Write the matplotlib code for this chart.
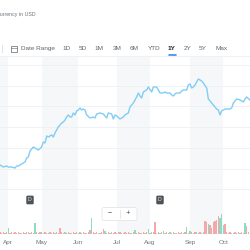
import matplotlib
matplotlib.use("Agg")
import matplotlib.pyplot as plt
from matplotlib.patches import FancyBboxPatch, Rectangle
from matplotlib.lines import Line2D

plt.rcParams['font.family'] = ['Liberation Sans', 'DejaVu Sans']

# ---- data (x = trading session index, price in USD, volume in millions) ----
price_day = [0, 2, 4, 5, 7, 9, 10, 11, 13, 14, 15, 16, 17, 18, 19, 20, 21, 22, 23, 25,
             26, 27, 28, 29, 31, 32, 33, 34, 35, 37, 38, 39, 40, 41, 42, 43, 44, 45, 46, 47,
             48, 49, 50, 51, 52, 54, 56, 57, 58, 60, 62, 64, 65, 67, 68, 69, 70, 72, 74, 75,
             77, 78, 80, 81, 82, 83, 84, 85, 86, 87, 88, 89, 91, 92, 93, 94, 96, 98, 99, 100,
             102, 103, 104, 105, 106, 108, 109, 110, 112, 113, 114, 115, 116, 117, 118, 119, 121, 122, 124, 125,
             127, 129, 130, 131, 132, 133, 135, 136, 138, 139, 140, 142, 144, 146, 147, 148, 150]
price = [25.85, 25.36, 25.61, 25.36, 25.36, 25.12, 25.61, 25.61, 26.09, 26.33, 26.57, 27.54, 27.78, 29.23, 29.71, 30.20, 29.96, 29.71, 29.47, 30.20,
         31.40, 31.16, 32.85, 32.61, 33.10, 32.61, 33.58, 34.30, 35.03, 35.99, 36.23, 36.72, 37.44, 37.93, 37.44, 37.44, 38.41, 37.93, 38.89, 39.13,
         39.62, 39.13, 39.37, 39.13, 37.93, 37.20, 37.44, 37.20, 38.17, 38.41, 38.17, 37.20, 38.41, 38.17, 36.96, 37.93, 37.68, 36.96, 37.44, 37.93,
         38.41, 39.86, 40.82, 41.55, 42.27, 43.24, 42.51, 42.03, 43.48, 43.72, 43.96, 44.69, 43.48, 44.69, 44.69, 44.69, 43.24, 43.24, 43.48, 43.24,
         43.24, 42.76, 42.51, 43.00, 43.24, 43.24, 43.72, 43.96, 43.96, 45.17, 45.41, 44.45, 44.69, 45.17, 45.89, 46.62, 46.14, 45.65, 44.45, 41.79,
         40.82, 39.86, 39.37, 39.13, 37.93, 38.89, 39.37, 39.37, 39.37, 39.62, 40.82, 41.79, 41.55, 41.07, 41.79, 42.27, 41.55]

# signed volume: + up day (green), - down day (red)
volume = [-2, -1, -2, -1, 2, 6, -1, -2, -1, -2,
          -1, -2, 1, -1, -2, -1, -2, 2, -1, -2,
          -1, 11, -2, -1, -2, 2, -1, -2, -1, 1,
          -2, -1, -2, 1, -2, -1, -6, -2, -1, 2,
          -1, -2, -1, 1, -2, -1, -2, -1, 2, -1,
          -2, -1, 1, -2, -4, 16, -2, -1, -2, 1,
          -1, -2, -5, 3, -1, -2, -1, 2, -1, -2,
          -1, 2, -2, -1, 1, -2, -1, -2, 1, -1,
          -2, 4, -1, -2, -1, 1, -2, -1, -2, 5,
          -1, 2, -2, -12, -1, -2, 1, -2, 3, -1,
          -2, -1, 2, -1, -2, 1, -1, -2, -1, 2,
          -1, -2, 7, -1, 3, -2, -1, -2, 2, -1,
          -2, -1, 2, -13, -12, 10, -9, -6, -12, -13,
          -14, -18, 16, 20, 9, -10, -2, -1, -2, 1,
          -1, -2, -1, 2, -1, -2, -1, 11, -8, -2]

month_start = [5, 25, 47, 70, 90, 114, 134]
month_names = ['Apr', 'May', 'Jun', 'Jul', 'Aug', 'Sep', 'Oct']
shaded_months = [(-3, 5), (25, 47), (70, 90), (114, 134)]
dividend_day = [18, 96]
price_ticks = [20, 25, 30, 35, 40, 45, 50]
ranges = ['1D', '5D', '1M', '3M', '6M', 'YTD', '1Y', '2Y', '5Y', 'Max']
range_x = [67, 83, 99, 117, 134.5, 154, 172, 188, 203, 221.5]

W = H = 250.0
fig = plt.figure(figsize=(2.5, 2.5), dpi=100)
fig.patch.set_facecolor('white')

def fy(py):
    return 1 - py / H

ax_p = fig.add_axes([0, fy(209), 1, (209 - 57) / H])
ax_v = fig.add_axes([0, fy(234), 1, (234 - 209) / H])

for a in (ax_p, ax_v):
    a.set_xlim(0, 150)
    a.set_facecolor('none')
    for s in a.spines.values():
        s.set_visible(False)
    a.set_xticks([])
    a.set_yticks([])
    for lo, hi in shaded_months:
        a.axvspan(lo, hi, color='#f5f7f8', lw=0, zorder=0)

ax_p.set_ylim(15.22, 51.93)
for t in price_ticks:
    ax_p.axhline(t, color='#edf0f2', lw=0.6, zorder=1)
ax_p.plot(price_day, price, color='#80cdf6', lw=1.0, zorder=3, solid_joinstyle='round')
ax_p.axhline(15.3, color='#b5babf', lw=0.7, ls=(0, (1, 1)), zorder=2)

for d in dividend_day:
    ax_p.text(d, 17.4, 'D', ha='center', va='center', fontsize=3.8, color='#e8e8e8',
              zorder=5, bbox=dict(boxstyle='round,pad=0.35,rounding_size=0.25',
                                  fc='#4d5257', ec='none'))

ax_v.set_ylim(0, 25)
days = list(range(len(volume)))
heights = [abs(v) for v in volume]
colors = ['#8ddcbf' if v > 0 else '#f6a7ab' for v in volume]
ax_v.bar(days, heights, width=0.75, color=colors, lw=0, zorder=3)
ax_v.axhline(0.15, color='#e4e7ea', lw=0.6, zorder=2)

# month labels
for m, name in zip(month_start, month_names):
    fig.text(m / 150, fy(242.5), name, ha='center', va='center', fontsize=4.6, color='#6f767d')

# header
fig.text(-4 / W, fy(14.7), 'Currency in USD', ha='left', va='center', fontsize=3.8, color='#6f767d')
fig.add_artist(Line2D([1.7 / W, 1.7 / W], [fy(45), fy(52)], color='#dfe2e5', lw=0.7))
fig.add_artist(Rectangle((11 / W, fy(51.5)), 5.5 / W, 5 / H, fill=False, ec='#5f666d', lw=0.5))
fig.add_artist(Line2D([11 / W, 16.5 / W], [fy(48), fy(48)], color='#5f666d', lw=0.4))
fig.text(21 / W, fy(48.3), 'Date Range', ha='left', va='center', fontsize=4.6, color='#5f666d')
for r, x in zip(ranges, range_x):
    sel = r == '1Y'
    fig.text(x / W, fy(48.3), r, ha='center', va='center', fontsize=4.6,
             color='#1d2228' if sel else '#5f666d', fontweight='bold' if sel else 'normal')
fig.add_artist(Line2D([168.5 / W, 175.5 / W], [fy(54.5), fy(54.5)], color='#3c8af0', lw=1.2,
                      solid_capstyle='round'))
fig.add_artist(Line2D([0, 1], [fy(56.3), fy(56.3)], color='#eceff1', lw=0.6))

# zoom buttons
fig.add_artist(FancyBboxPatch((102 / W, fy(220.5)), 35 / W, 13 / H,
                              boxstyle='round,pad=0,rounding_size=0.008',
                              fc='white', ec='#e3e6e9', lw=0.6, zorder=6))
fig.text(110 / W, fy(213.5), '\u2212', ha='center', va='center', fontsize=5, color='#464b51', zorder=7)
fig.text(127.5 / W, fy(213.5), '+', ha='center', va='center', fontsize=5.5, color='#464b51', zorder=7)
fig.add_artist(Line2D([120 / W, 120 / W], [fy(209.5), fy(218)], color='#dadde0', lw=0.5, zorder=7))

fig.savefig('out.png', dpi=100, facecolor='white')
